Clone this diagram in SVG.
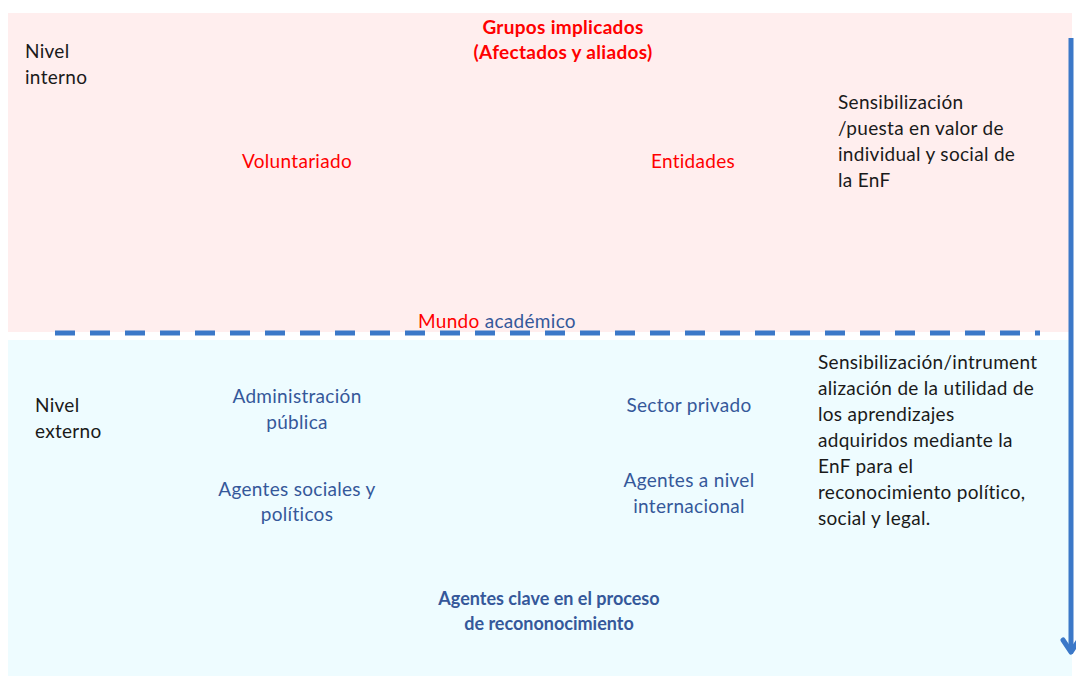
<svg xmlns="http://www.w3.org/2000/svg" width="1076" height="676" viewBox="0 0 1076 676">
<defs>
<style>
text{font-family:Lato,"Open Sans","Liberation Sans",sans-serif;font-size:19px;letter-spacing:0.3px}
.blk{fill:#1a1a1a}
.red{fill:#ff0000}
.blu{fill:#35589a}
.b{font-weight:bold}
.c{text-anchor:middle}
.k{font-size:18px;letter-spacing:0}
</style>
</defs>
<rect width="1076" height="676" fill="#ffffff"/>
<g id="internal-band"><rect x="8" y="13" width="1064" height="319" fill="#ffeeee"/></g>
<g id="external-band"><rect x="8" y="340" width="1064" height="336" fill="#eefcff"/></g>
<g id="connectors">
<line x1="55" y1="333" x2="1040" y2="333" stroke="#3b78c8" stroke-width="5" stroke-dasharray="20 15"/>
<line x1="1071" y1="38" x2="1071" y2="652" stroke="#3b78c8" stroke-width="5"/>
<path d="M1063,640 L1071,652 L1079,640" fill="none" stroke="#3b78c8" stroke-width="5" stroke-linecap="round" stroke-linejoin="round"/>
</g>
<g id="nivel-interno"><text class="blk" x="25" y="58">Nivel</text><text class="blk" x="25" y="84">interno</text></g>
<g id="grupos"><text class="red b c" x="563" y="34">Grupos implicados</text><text class="red b c" x="563" y="59">(Afectados y aliados)</text></g>
<g id="voluntariado"><text class="red c" x="297" y="168">Voluntariado</text></g>
<g id="entidades"><text class="red c" x="693" y="168">Entidades</text></g>
<g id="sens-interno">
<text class="blk" x="838" y="109">Sensibilización</text>
<text class="blk" x="838" y="135">/puesta en valor de</text>
<text class="blk" x="838" y="161">individual y social de</text>
<text class="blk" x="838" y="187">la EnF</text>
</g>
<g id="mundo"><text x="418" y="328"><tspan class="red">Mundo</tspan><tspan class="blu"> académico</tspan></text></g>
<g id="nivel-externo"><text class="blk" x="35" y="412">Nivel</text><text class="blk" x="35" y="438">externo</text></g>
<g id="administracion"><text class="blu c" x="297" y="403">Administración</text><text class="blu c" x="297" y="429">pública</text></g>
<g id="sector-privado"><text class="blu c" x="689" y="412">Sector privado</text></g>
<g id="agentes-sociales"><text class="blu c" x="297" y="496">Agentes sociales y</text><text class="blu c" x="297" y="521">políticos</text></g>
<g id="agentes-internacional"><text class="blu c" x="689" y="487">Agentes a nivel</text><text class="blu c" x="689" y="513">internacional</text></g>
<g id="sens-externo">
<text class="blk" x="818" y="369">Sensibilización/intrument</text>
<text class="blk" x="818" y="395">alización de la utilidad de</text>
<text class="blk" x="818" y="421">los aprendizajes</text>
<text class="blk" x="818" y="447">adquiridos mediante la</text>
<text class="blk" x="818" y="473">EnF  para el</text>
<text class="blk" x="818" y="499">reconocimiento político,</text>
<text class="blk" x="818" y="525">social y legal.</text>
</g>
<g id="agentes-clave"><text class="blu b c k" x="549" y="605">Agentes clave en el proceso</text><text class="blu b c k" x="549" y="630">de recononocimiento</text></g>
</svg>
